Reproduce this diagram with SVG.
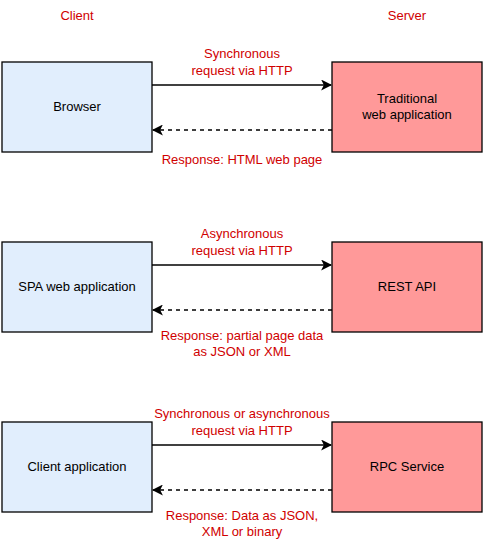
<svg xmlns="http://www.w3.org/2000/svg" width="485" height="547" viewBox="0 0 485 547">
<style>
.c{fill:#e1eefd;stroke:#000;stroke-width:1.3}
.s{fill:#ff9999;stroke:#000;stroke-width:1.3}
.t{font-family:"Liberation Sans",Arial,sans-serif;font-size:13px;fill:#000;text-anchor:middle}
.r{font-family:"Liberation Sans",Arial,sans-serif;font-size:13px;fill:#d00000;text-anchor:middle}
.a{stroke:#000;stroke-width:1.3;fill:none}
.d{stroke-dasharray:4 4}
</style>
<defs>
<marker id="ah" viewBox="0 0 10 10" refX="9" refY="5" markerWidth="11" markerHeight="11" markerUnits="userSpaceOnUse" orient="auto">
<path d="M0,0 L10,5 L0,10 L2.5,5 Z" fill="#000"/>
</marker>
</defs>
<rect width="485" height="547" fill="#fff"/>
<text class="r" x="77" y="20">Client</text>
<text class="r" x="407" y="20">Server</text>
<g id="browser"><rect class="c" x="2" y="62" width="150" height="90"/><text class="t" x="77" y="111">Browser</text></g>
<g id="traditional"><rect class="s" x="332" y="62" width="150" height="90"/><text class="t" x="407" y="103">Traditional</text><text class="t" x="407" y="119">web application</text></g>
<g id="spa"><rect class="c" x="2" y="242" width="150" height="90"/><text class="t" x="77" y="291">SPA web application</text></g>
<g id="rest"><rect class="s" x="332" y="242" width="150" height="90"/><text class="t" x="407" y="291">REST API</text></g>
<g id="clientapp"><rect class="c" x="2" y="422" width="150" height="90"/><text class="t" x="77" y="471">Client application</text></g>
<g id="rpc"><rect class="s" x="332" y="422" width="150" height="90"/><text class="t" x="407" y="471">RPC Service</text></g>
<g id="connectors">
<line class="a" x1="152" y1="85" x2="331" y2="85" marker-end="url(#ah)"/>
<line class="a d" x1="332" y1="130" x2="153" y2="130" marker-end="url(#ah)"/>
<line class="a" x1="152" y1="265" x2="331" y2="265" marker-end="url(#ah)"/>
<line class="a d" x1="332" y1="310" x2="153" y2="310" marker-end="url(#ah)"/>
<line class="a" x1="152" y1="445" x2="331" y2="445" marker-end="url(#ah)"/>
<line class="a d" x1="332" y1="490" x2="153" y2="490" marker-end="url(#ah)"/>
<text class="r" x="242" y="58">Synchronous</text>
<text class="r" x="242" y="75">request via HTTP</text>
<text class="r" x="242" y="164">Response: HTML web page</text>
<text class="r" x="242" y="238">Asynchronous</text>
<text class="r" x="242" y="255">request via HTTP</text>
<text class="r" x="242" y="340">Response: partial page data</text>
<text class="r" x="242" y="356">as JSON or XML</text>
<text class="r" x="242" y="418">Synchronous or asynchronous</text>
<text class="r" x="242" y="435">request via HTTP</text>
<text class="r" x="242" y="520">Response: Data as JSON,</text>
<text class="r" x="242" y="536">XML or binary</text>
</g>
</svg>
